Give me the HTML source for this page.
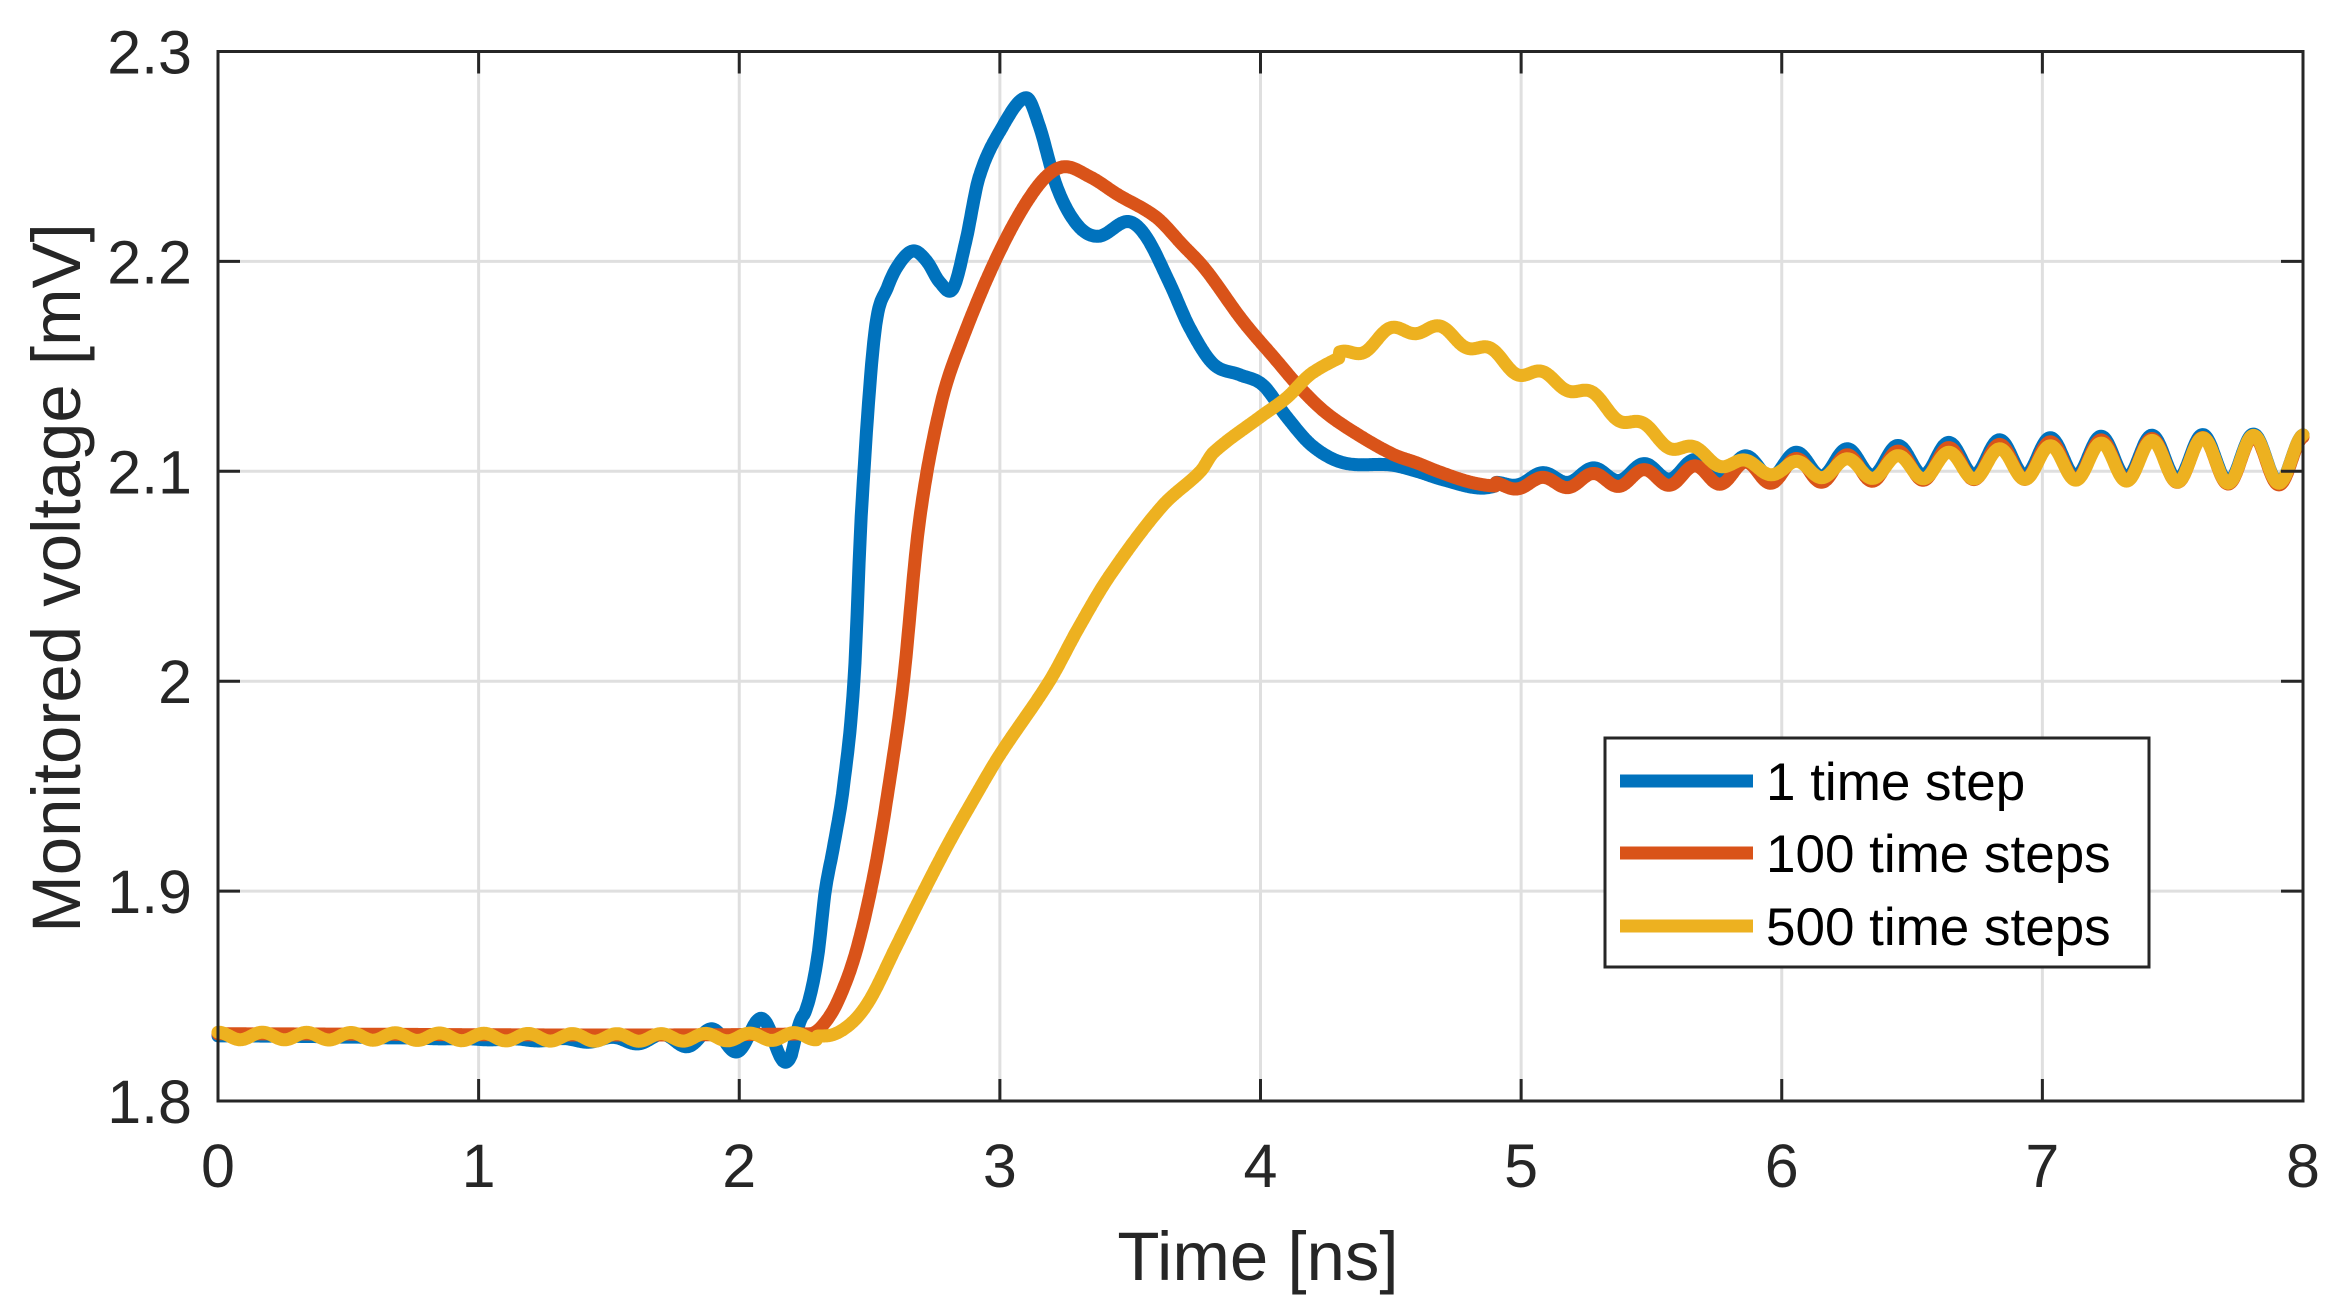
<!DOCTYPE html>
<html><head><meta charset="utf-8"><style>
html,body{margin:0;padding:0;background:#fff;}
svg{display:block;font-family:"Liberation Sans",sans-serif;}
</style></head><body>
<svg id="s" width="2346" height="1310" viewBox="0 0 2346 1310" xmlns="http://www.w3.org/2000/svg">
<rect width="2346" height="1310" fill="#fff"/>
<g id="grid" stroke="#dfdfdf" stroke-width="3"></g>
<g id="curves" fill="none" stroke-width="13" stroke-linejoin="round" stroke-linecap="round"></g>
<g id="axes" stroke="#262626" stroke-width="3" fill="none"></g>
<g id="labels" fill="#262626" font-size="61"></g>
<text x="1258" y="1280" font-size="69" fill="#262626" text-anchor="middle">Time [ns]</text>
<text transform="translate(80,578) rotate(-90)" font-size="69" fill="#262626" text-anchor="middle">Monitored voltage [mV]</text>
<g>
<rect x="1605" y="738" width="544" height="229" fill="#fff" stroke="#262626" stroke-width="3"/>
<line x1="1620" y1="781" x2="1753" y2="781" stroke="#0072BD" stroke-width="13"/>
<line x1="1620" y1="853" x2="1753" y2="853" stroke="#D95319" stroke-width="13"/>
<line x1="1620" y1="926" x2="1753" y2="926" stroke="#EDB120" stroke-width="13"/>
<text x="1766" y="800" font-size="53" fill="#000">1 time step</text>
<text x="1766" y="872" font-size="53" fill="#000">100 time steps</text>
<text x="1766" y="945" font-size="53" fill="#000">500 time steps</text>
</g>
</svg>
<script>
var L=218,R=2303,T=51.5,B=1101;
function X(t){return L+(R-L)*t/8;}
function Y(v){return T+(2.3-v)*(B-T)/0.5;}
var NS="http://www.w3.org/2000/svg";
function el(p,n,a){var e=document.createElementNS(NS,n);for(var k in a)e.setAttribute(k,a[k]);p.appendChild(e);return e;}
var g=document.getElementById('grid'),ax=document.getElementById('axes'),lb=document.getElementById('labels');
for(var i=1;i<8;i++){el(g,'line',{x1:X(i),y1:T,x2:X(i),y2:B});}
var yt=[1.8,1.9,2,2.1,2.2,2.3];
for(var j=1;j<5;j++){el(g,'line',{x1:L,y1:Y(yt[j]),x2:R,y2:Y(yt[j])});}
for(var i=0;i<=8;i++){
 el(ax,'line',{x1:X(i),y1:B,x2:X(i),y2:B-22});el(ax,'line',{x1:X(i),y1:T,x2:X(i),y2:T+22});
 var tx=el(lb,'text',{x:X(i),y:1187,'text-anchor':'middle'});tx.textContent=i;
}
yt.forEach(function(v){
 el(ax,'line',{x1:L,y1:Y(v),x2:L+22,y2:Y(v)});el(ax,'line',{x1:R,y1:Y(v),x2:R-22,y2:Y(v)});
 var tx=el(lb,'text',{x:192,y:Y(v)+22,'text-anchor':'end'});tx.textContent=(v==2?'2':v.toFixed(1));
});
el(ax,'rect',{x:L,y:T,width:R-L,height:B-T});

function interp(k,t){
 var n=k.length;if(t<=k[0][0])return k[0][1];if(t>=k[n-1][0])return k[n-1][1];
 var i=0;while(k[i+1][0]<t)i++;
 var p0=k[Math.max(i-1,0)],p1=k[i],p2=k[i+1],p3=k[Math.min(i+2,n-1)];
 var h=p2[0]-p1[0],u=(t-p1[0])/h;
 var m1=(p2[1]-p0[1])/(p2[0]-p0[0]||1)*h,m2=(p3[1]-p1[1])/(p3[0]-p1[0]||1)*h;
 if(i==0)m1=(p2[1]-p1[1]);if(i+2>=n)m2=(p2[1]-p1[1]);
 var u2=u*u,u3=u2*u;
 return (2*u3-3*u2+1)*p1[1]+(u3-2*u2+u)*m1+(-2*u3+3*u2)*p2[1]+(u3-u2)*m2;
}
function late(t,a0,t0){ if(t<t0)return 0; var a=a0+(0.0115-a0)*Math.min(1,(t-t0)/(7.8-t0)); return a*Math.cos(2*Math.PI*(t-7.81)/0.195);}
var blueK=[[0,1.831],[2.2,1.831],[2.26,1.845],[2.3,1.868],[2.33,1.9],[2.36,1.92],[2.4,1.95],[2.44,2.0],[2.47,2.083],[2.52,2.166],[2.57,2.188],[2.62,2.2],[2.67,2.205],[2.72,2.2],[2.77,2.19],[2.82,2.187],[2.87,2.21],[2.92,2.24],[3.0,2.262],[3.1,2.278],[3.15,2.265],[3.22,2.235],[3.3,2.217],[3.38,2.212],[3.49,2.219],[3.56,2.212],[3.65,2.19],[3.73,2.168],[3.82,2.151],[3.92,2.146],[4.01,2.141],[4.1,2.126],[4.2,2.112],[4.32,2.104],[4.5,2.103],[4.6,2.1],[4.7,2.096],[4.85,2.092],[5.0,2.096],[6,2.103],[7,2.107],[8,2.106]];
var orK=[[0,1.832],[2.27,1.832],[2.32,1.836],[2.38,1.848],[2.45,1.872],[2.52,1.91],[2.58,1.955],[2.63,2.0],[2.69,2.075],[2.77,2.13],[2.85,2.161],[3.0,2.205],[3.14,2.235],[3.24,2.245],[3.35,2.24],[3.45,2.232],[3.6,2.221],[3.7,2.208],[3.79,2.196],[3.93,2.172],[4.06,2.153],[4.15,2.14],[4.25,2.128],[4.38,2.117],[4.51,2.108],[4.6,2.104],[4.68,2.1],[4.8,2.095],[4.9,2.093],[5.0,2.094],[6,2.1],[7,2.105],[8,2.105]];
var yeK=[[0,1.831],[2.33,1.831],[2.42,1.836],[2.5,1.848],[2.6,1.873],[2.7,1.898],[2.8,1.922],[2.9,1.944],[3.0,1.965],[3.19,2.0],[3.3,2.025],[3.42,2.05],[3.62,2.083],[3.77,2.1],[3.82,2.109],[4.0,2.126],[4.1,2.135],[4.2,2.147],[4.39,2.159],[4.56,2.168],[4.7,2.166],[4.85,2.158],[5.0,2.148],[5.2,2.14],[5.4,2.125],[5.6,2.112],[5.8,2.104],[6.0,2.101],[7,2.104],[8,2.106]];
function blue(t){var v=interp(blueK,t);
 if(t<2.25){var e=0.009*Math.exp((t-2.08)/0.3);if(t>2.2)e*=(2.25-t)/0.05;v+=e*Math.cos(2*Math.PI*(t-2.08)/0.19);}
 return v+late(t,0.002,4.9);}
function ora(t){return interp(orK,t)+late(t,0.002,4.9);}
function yel(t){var v=interp(yeK,t);
 if(t<2.3)v+=0.0018*Math.cos(2*Math.PI*t/0.17);
 if(t>=4.3&&t<6)v+=0.0028*Math.cos(2*Math.PI*(t-7.81)/0.195);
 return v+late(t,0.0035,6);}
var cv=document.getElementById('curves');
[[blue,'#0072BD'],[ora,'#D95319'],[yel,'#EDB120']].forEach(function(c){
 var pts=[];for(var t=0;t<=8.0001;t+=0.004){pts.push(X(t).toFixed(1)+','+Y(c[0](t)).toFixed(1));}
 el(cv,'polyline',{points:pts.join(' '),stroke:c[1]});
});
</script>
</body></html>
